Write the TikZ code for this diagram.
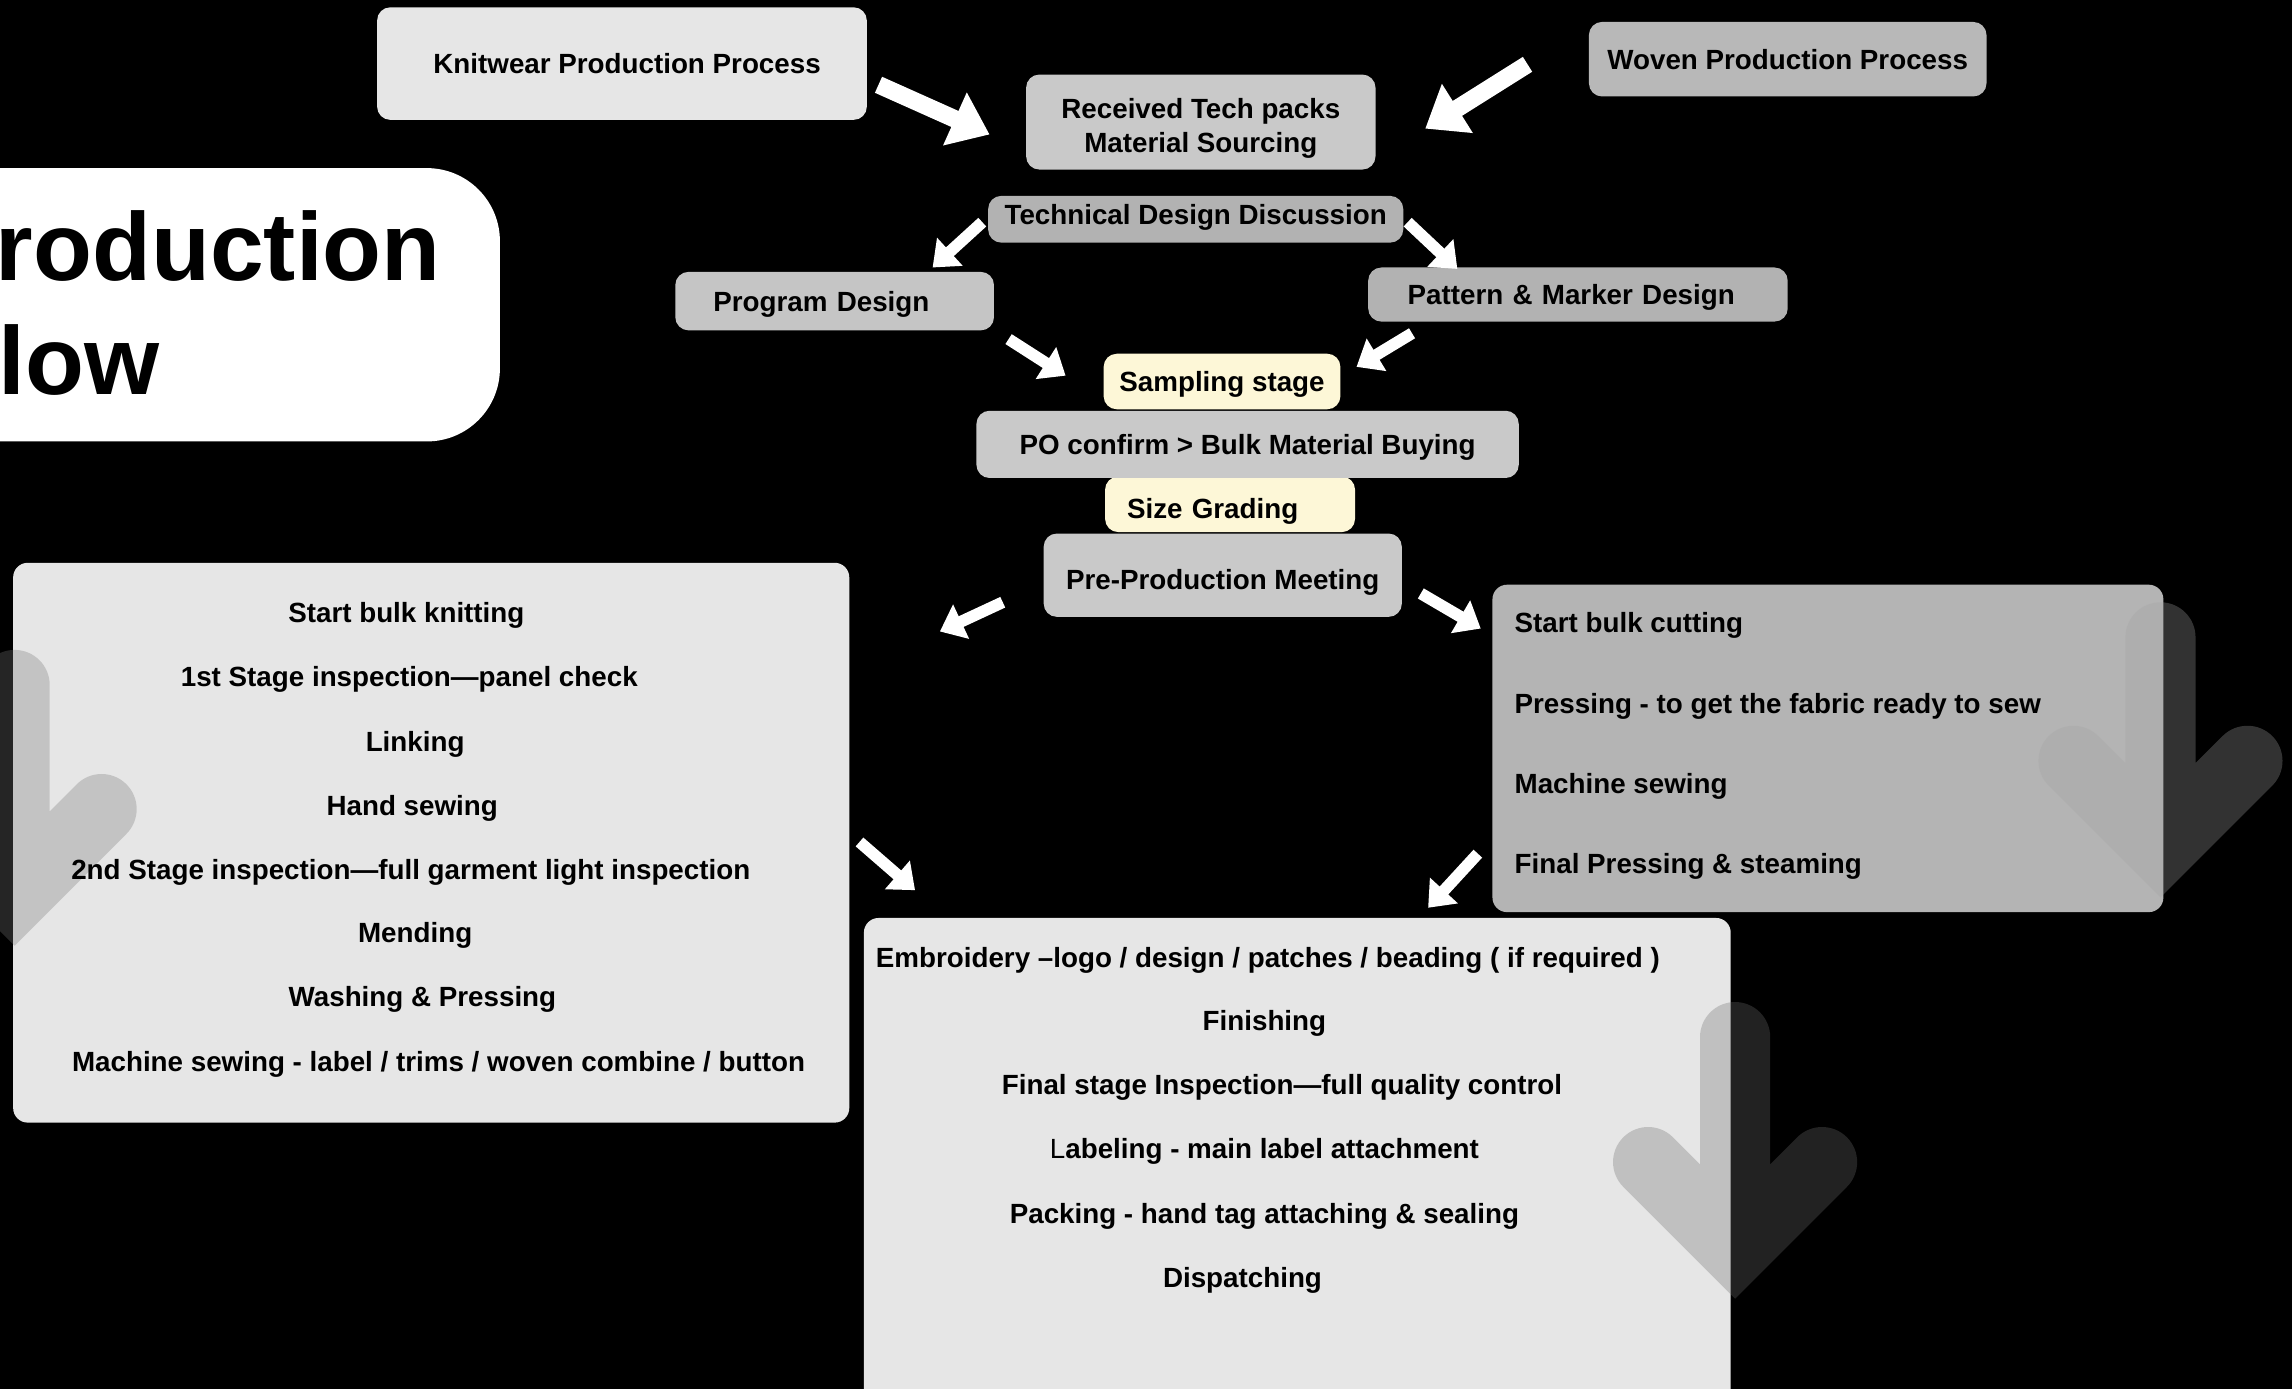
\documentclass[tikz,border=0pt]{standalone}
\usepackage{fontspec}
\setmainfont{Liberation Sans}
\usetikzlibrary{arrows.meta}

\definecolor{boxlight}{HTML}{E6E6E6}
\definecolor{boxmid}{HTML}{C9C9C9}
\definecolor{boxprog}{HTML}{C5C5C5}
\definecolor{boxdark}{HTML}{B2B2B2}
\definecolor{boxwoven}{HTML}{B8B8B8}
\definecolor{boxcut}{HTML}{B4B4B4}
\definecolor{boxcream}{HTML}{FDF7D7}
\definecolor{shadeleft}{gray}{0.47}
\definecolor{shaderight}{gray}{0.64}
\definecolor{shadebottom}{gray}{0.43}

\newcommand\stagefont{\fontsize{19}{23}\selectfont\bfseries}
\newcommand\headfont{\fontsize{66}{78}\selectfont\bfseries}

\tikzset{
  stagebox/.style={rounded corners=9pt, inner sep=0pt, align=center, font=\stagefont, text=black},
  stage/.style={stagebox, text height=13.6pt, text depth=0pt},
  lowered/.style={text height=19.6pt},
  raised/.style={text depth=6pt},
  panel/.style={rounded corners=10pt, inner sep=0pt},
  stepline/.style={inner sep=0pt, font=\stagefont, text=black, text height=13.6pt, text depth=0pt},
  titletext/.style={inner sep=0pt, font=\headfont, text=black},
  flow/.style={draw=white, line width=8pt, -{Triangle[length=16pt,width=25pt]}},
  bigflow/.style={flow, line width=12pt, -{Triangle[length=26pt,width=38pt]}},
  bgarrow/.style={draw=#1, draw opacity=0.31, line width=48pt, line cap=round, line join=miter}
}

\begin{document}
\begin{tikzpicture}[x=1pt, y=-1pt]
\useasboundingbox (0,0) rectangle (1568,950);
\fill[black] (0,0) rectangle (1568,950);
\clip (0,0) rectangle (1568,950);

% title card
\node[panel, fill=white, rounded corners=50pt, minimum width=422pt, minimum height=187pt] (title) at (131,208.5) {};
\node[titletext, anchor=base west] (titleA) at (-3,192) {roduction};
\node[titletext, anchor=base west] (titleB) at (-1,270) {low};

% upper stages
\node[stage, fill=boxlight, minimum width=335pt, minimum height=77pt] (knit) at (425.5,43.5) {\hspace{7pt}Knitwear Production Process};
\node[stagebox, fill=boxmid, minimum width=239pt, minimum height=65pt] (recv) at (821.5,83.5) {\rule{0pt}{22pt}Received Tech packs\\Material Sourcing};
\node[stage, fill=boxwoven, minimum width=272pt, minimum height=51pt] (woven) at (1223,40.5) {Woven Production Process};
\node[stage, raised, fill=boxdark, minimum width=284pt, minimum height=32pt] (tech) at (818,150) {Technical Design Discussion};
\node[stage, fill=boxprog, text width=166pt, inner xsep=26pt, align=left, minimum height=40pt] (prog) at (571,206) {Program Design};
\node[stage, fill=boxdark, text width=233pt, inner xsep=27pt, align=left, minimum height=37pt] (pattern) at (1079.5,201.5) {Pattern \& Marker Design};
\node[stage, fill=boxcream, minimum width=162pt, minimum height=38pt] (samp) at (836,261) {Sampling stage};
\node[stage, lowered, fill=boxcream, text width=141pt, inner xsep=15pt, align=left, minimum height=38pt] (size) at (841.5,345) {Size Grading};
\node[stage, fill=boxmid, minimum width=371pt, minimum height=46pt] (po) at (853.5,304) {PO confirm > Bulk Material Buying};
\node[stage, lowered, fill=boxmid, minimum width=245pt, minimum height=57pt] (pre) at (836.5,393.5) {Pre-Production Meeting};

% production panels
\node[panel, fill=boxlight, minimum width=572pt, minimum height=383pt] (knitpanel) at (295,576.5) {};
\node[panel, fill=boxcut, minimum width=459pt, minimum height=224pt] (cutpanel) at (1250.5,512) {};
\node[panel, fill=boxlight, minimum width=593pt, minimum height=342pt] (finpanel) at (887.5,799) {};

% shaded down arrows
\draw[bgarrow=shadeleft] (10,468.6) -- (10,613) (-49.5,553.5) -- (10,613) -- (69.5,553.5);
\draw[bgarrow=shaderight] (1478,436) -- (1478,580) (1418.5,520.5) -- (1478,580) -- (1537.5,520.5);
\draw[bgarrow=shadebottom] (1187,709.5) -- (1187,854.5) (1127.5,795) -- (1187,854.5) -- (1246.5,795);

% knitwear steps
\node[stepline] (k1) at (278,419) {Start bulk knitting};
\node[stepline] (k2) at (280,463) {1st Stage inspection—panel check};
\node[stepline] (k3) at (284,507) {Linking};
\node[stepline] (k4) at (282,551) {Hand sewing};
\node[stepline] (k5) at (281,595) {2nd Stage inspection—full garment light inspection};
\node[stepline] (k6) at (284,638) {Mending};
\node[stepline] (k7) at (289,682) {Washing \& Pressing};
\node[stepline] (k8) at (300,726) {Machine sewing - label / trims / woven combine / button};

% woven steps
\node[stepline, anchor=west] (c1) at (1036,426) {Start bulk cutting};
\node[stepline, anchor=west] (c2) at (1036,481) {Pressing - to get the fabric ready to sew};
\node[stepline, anchor=west] (c3) at (1036,536) {Machine sewing};
\node[stepline, anchor=west] (c4) at (1036,591) {Final Pressing \& steaming};

% finishing steps
\node[stepline, anchor=west] (f1) at (599,655) {Embroidery –logo / design / patches / beading ( if required )};
\node[stepline] (f2) at (865,698) {Finishing};
\node[stepline] (f3) at (877,742) {Final stage Inspection—full quality control};
\node[stepline] (f4) at (865,786) {{\mdseries L}abeling - main label attachment};
\node[stepline] (f5) at (865,830) {Packing - hand tag attaching \& sealing};
\node[stepline] (f6) at (850,874) {Dispatching};

% arrow ends
\coordinate (knitOut) at (601,58);   \coordinate (recvInL) at (677,92);
\coordinate (wovenOut) at (1045,44); \coordinate (recvInR) at (975,88);
\coordinate (techOutL) at (672,152); \coordinate (progIn) at (638,183);
\coordinate (techOutR) at (963,152); \coordinate (patternIn) at (997,184);
\coordinate (progOut) at (690,232);  \coordinate (sampInL) at (729,257);
\coordinate (patternOut) at (966,228); \coordinate (sampInR) at (928,251);
\coordinate (preOutL) at (686,412);  \coordinate (knitpanelIn) at (643,432);
\coordinate (preOutR) at (972,406);  \coordinate (cutpanelIn) at (1013,430);
\coordinate (knitpanelOut) at (588,576); \coordinate (finInL) at (626,609);
\coordinate (cutpanelOut) at (1011,584); \coordinate (finInR) at (977,621);

\draw[bigflow] (knitOut) -- (recvInL);
\draw[bigflow] (wovenOut) -- (recvInR);
\draw[flow] (techOutL) -- (progIn);
\draw[flow] (techOutR) -- (patternIn);
\draw[flow] (progOut) -- (sampInL);
\draw[flow] (patternOut) -- (sampInR);
\draw[flow] (preOutL) -- (knitpanelIn);
\draw[flow] (preOutR) -- (cutpanelIn);
\draw[flow] (knitpanelOut) -- (finInL);
\draw[flow] (cutpanelOut) -- (finInR);
\end{tikzpicture}
\end{document}
